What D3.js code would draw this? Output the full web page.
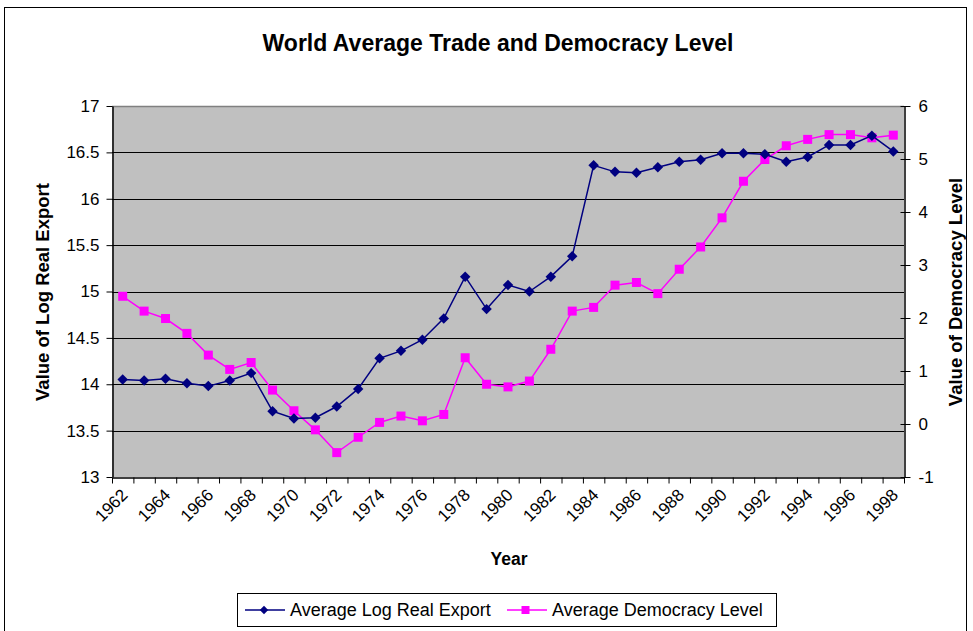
<!DOCTYPE html>
<html>
<head>
<meta charset="utf-8">
<script src="https://cdn.jsdelivr.net/npm/d3@7"></script>
<style>
  body { margin: 0; background: #fff; }
  text { font-family: "Liberation Sans", Arial, sans-serif; fill: #000; }
  .grid line { stroke: #000; stroke-width: 1; }
  .axis path, .axis line { stroke: #000; }
</style>
</head>
<body>
<svg id="svg" width="973" height="631"></svg>
<script>
const years = d3.range(1962, 1999);

const tradeValues = [14.05, 14.04, 14.06, 14.01, 13.98, 14.04, 14.12, 13.71, 13.63, 13.64,
  13.76, 13.95, 14.28, 14.36, 14.48, 14.71, 15.16, 14.81, 15.07, 15.00,
  15.16, 15.38, 16.36, 16.29, 16.28, 16.34, 16.40, 16.42, 16.49, 16.49,
  16.48, 16.40, 16.45, 16.58, 16.58, 16.68, 16.51];

const democracyValues = [2.41, 2.13, 1.99, 1.71, 1.30, 1.03, 1.16, 0.64, 0.25, -0.11,
  -0.54, -0.25, 0.03, 0.15, 0.06, 0.18, 1.25, 0.75, 0.70, 0.81,
  1.41, 2.13, 2.20, 2.62, 2.67, 2.46, 2.92, 3.34, 3.89, 4.58,
  4.99, 5.25, 5.37, 5.46, 5.46, 5.40, 5.45];

const leftTicks = [13, 13.5, 14, 14.5, 15, 15.5, 16, 16.5, 17];
const rightTicks = [-1, 0, 1, 2, 3, 4, 5, 6];
const yearLabels = years.filter(y => (y - 1962) % 2 === 0);

const svg = d3.select("svg#svg");

const plot = { left: 112, right: 904, top: 106, bottom: 477 };

const x = d3.scaleBand().domain(years).range([plot.left, plot.right]).padding(0);
const xEdge = d3.scaleLinear().domain([1962, 1999]).range([plot.left, plot.right]);
const yLeft = d3.scaleLinear().domain([13, 17]).range([plot.bottom, plot.top]);
const yRight = d3.scaleLinear().domain([-1, 6]).range([plot.bottom, plot.top]);

var cx = function(d, i) { return x(years[i]) + x.bandwidth() / 2; };

// outer frame
svg.append("rect")
  .attr("x", 4.5).attr("y", 7.5)
  .attr("width", 962).attr("height", 640)
  .attr("fill", "none").attr("stroke", "#000").attr("stroke-width", 1);

// title
svg.append("text")
  .attr("x", 498).attr("y", 51)
  .attr("text-anchor", "middle")
  .style("font-size", "23px").style("font-weight", "bold")
  .text("World Average Trade and Democracy Level");

// plot background
svg.append("rect")
  .attr("x", plot.left).attr("y", plot.top)
  .attr("width", plot.right - plot.left).attr("height", plot.bottom - plot.top)
  .attr("fill", "#c0c0c0");

// gridlines
svg.append("g").attr("class", "grid")
  .selectAll("line")
  .data(leftTicks.slice(1, -1))
  .enter()
  .append("line")
  .attr("x1", plot.left).attr("x2", plot.right)
  .attr("y1", d => Math.round(yLeft(d)) + 0.5)
  .attr("y2", d => Math.round(yLeft(d)) + 0.5);

// plot border top
svg.append("line")
  .attr("x1", plot.left).attr("x2", plot.right)
  .attr("y1", plot.top + 0.5).attr("y2", plot.top + 0.5)
  .attr("stroke", "#808080").attr("stroke-width", 1.5);

// left axis
const leftAxis = svg.append("g").attr("class", "axis")
  .attr("transform", "translate(" + (plot.left + 0.5) + ",0)")
  .call(d3.axisLeft(yLeft).tickValues(leftTicks).tickSize(6).tickSizeOuter(0)
    .tickFormat(d => String(d)));
leftAxis.selectAll("text").style("font-size", "17px").attr("x", -13);
leftAxis.select("path").attr("stroke-width", 1.5);

// right axis
const rightAxis = svg.append("g").attr("class", "axis")
  .attr("transform", "translate(" + (plot.right + 0.5) + ",0)")
  .call(d3.axisRight(yRight).tickValues(rightTicks).tickSize(6).tickSizeOuter(0)
    .tickFormat(d => String(d)));
rightAxis.selectAll("text").style("font-size", "17px").attr("x", 14);
rightAxis.select("path").attr("stroke", "#606060").attr("stroke-width", 1.5);
rightAxis.selectAll("line").attr("x1", -4).attr("stroke", "#606060");

// bottom axis (ticks between categories)
const bottomAxis = svg.append("g").attr("class", "axis")
  .attr("transform", "translate(0," + (plot.bottom + 0.5) + ")")
  .call(d3.axisBottom(xEdge).tickValues(d3.range(1962, 2000)).tickSize(6)
    .tickSizeOuter(0).tickFormat(""));
bottomAxis.select("path").attr("stroke", "#404040").attr("stroke-width", 1.5);

svg.append("g")
  .selectAll("text")
  .data(yearLabels)
  .enter()
  .append("text")
  .attr("transform", d => "translate(" + (x(d) + x.bandwidth() / 2 + 6) + "," + (plot.bottom + 19) + ") rotate(-45)")
  .attr("text-anchor", "end")
  .style("font-size", "17px")
  .text(d => d);

// axis titles
svg.append("text")
  .attr("transform", "translate(49,292) rotate(-90)")
  .attr("text-anchor", "middle")
  .style("font-size", "18.5px").style("font-weight", "bold")
  .text("Value of Log Real Export");

svg.append("text")
  .attr("transform", "translate(962,292) rotate(-90)")
  .attr("text-anchor", "middle")
  .style("font-size", "18.5px").style("font-weight", "bold")
  .text("Value of Democracy Level");

svg.append("text")
  .attr("x", 509).attr("y", 565)
  .attr("text-anchor", "middle")
  .style("font-size", "17.5px").style("font-weight", "bold")
  .text("Year");

// series
const tradeLine = d3.line().x(cx).y(d => yLeft(d));
const demoLine = d3.line().x(cx).y(d => yRight(d));

svg.append("path")
  .attr("d", demoLine(democracyValues))
  .attr("fill", "none").attr("stroke", "#ff00ff").attr("stroke-width", 1.5);

svg.append("g")
  .selectAll("rect")
  .data(democracyValues)
  .enter()
  .append("rect")
  .attr("x", (d, i) => cx(d, i) - 4.5)
  .attr("y", d => yRight(d) - 4.5)
  .attr("width", 9).attr("height", 9)
  .attr("fill", "#ff00ff");

svg.append("path")
  .attr("d", tradeLine(tradeValues))
  .attr("fill", "none").attr("stroke", "#000080").attr("stroke-width", 1.5);

const diamond = d3.symbol().type(d3.symbolDiamond2).size(70);
svg.append("g")
  .selectAll("path")
  .data(tradeValues)
  .enter()
  .append("path")
  .attr("d", diamond)
  .attr("transform", (d, i) => "translate(" + cx(d, i) + "," + yLeft(d) + ")")
  .attr("fill", "#000080");

// legend
const legend = svg.append("g");
legend.append("rect")
  .attr("x", 237.5).attr("y", 593.5)
  .attr("width", 539).attr("height", 33)
  .attr("fill", "#fff").attr("stroke", "#000").attr("stroke-width", 1);

const legendItems = [
  { label: "Average Log Real Export", color: "#000080", x: 245, shape: "diamond" },
  { label: "Average Democracy Level", color: "#ff00ff", x: 507, shape: "square" }
];

legendItems.forEach(function(item) {
  legend.append("line")
    .attr("x1", item.x).attr("x2", item.x + 40)
    .attr("y1", 610).attr("y2", 610)
    .attr("stroke", item.color).attr("stroke-width", 1.5);
  if (item.shape === "diamond") {
    legend.append("path")
      .attr("d", d3.symbol().type(d3.symbolDiamond2).size(45))
      .attr("transform", "translate(" + (item.x + 19) + ",610)")
      .attr("fill", item.color);
  } else {
    legend.append("rect")
      .attr("x", item.x + 14.5).attr("y", 606)
      .attr("width", 8).attr("height", 8)
      .attr("fill", item.color);
  }
  legend.append("text")
    .attr("x", item.x + 45).attr("y", 616)
    .style("font-size", "18px")
    .text(item.label);
});
</script>
</body>
</html>
